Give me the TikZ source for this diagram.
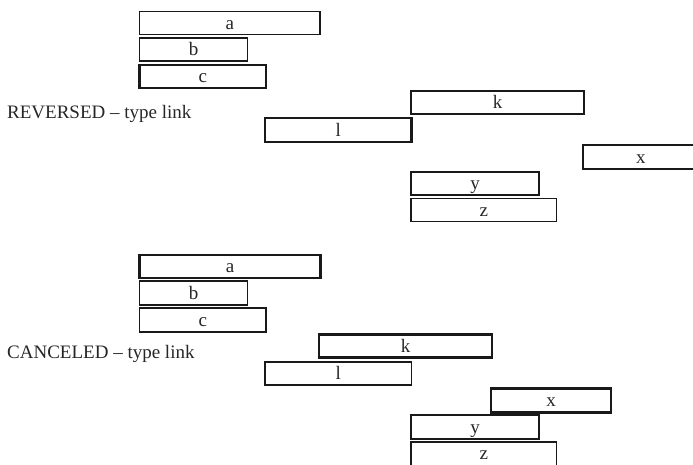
\documentclass[tikz,border=0pt]{standalone}
\usepackage{fontspec}
\setmainfont{Liberation Serif}
\usetikzlibrary{calc}
\begin{document}
\begin{tikzpicture}[x=1pt,y=-1pt,
  bar/.style={draw=black!90,line width=1.1pt,anchor=north west,inner sep=0pt,outer sep=0pt,
    minimum height=23pt,text height=14pt,text depth=2pt,font=\fontsize{19}{22}\selectfont,text=black!85},
  thickbar/.style={bar,line width=2.6pt},
  lab/.style={anchor=base west,inner sep=0pt,font=\fontsize{19}{22}\selectfont,text=black!85}]
\useasboundingbox (0,0) rectangle (693,464);
\clip (0,0) rectangle (693,464);
% top section
\node[bar,minimum width=180.5pt] (a1) at (139.5,11.5) {a};
\node[bar,minimum width=108pt] (b1) at (139.5,38) {b};
\node[thickbar,minimum width=126.5pt] (c1) at (139.5,65) {c};
\node[lab] (r1) at (7,118.3) {REVERSED – type link};
\node[thickbar,minimum width=173pt] (k1) at (411,91) {k};
\node[thickbar,minimum width=146.5pt,minimum height=24pt] (l1) at (265,118) {l};
\node[thickbar,minimum width=217pt,minimum height=24pt,text width=217pt,align=left] (x1) at (583,145) {\hspace*{53pt}x};
\node[bar,minimum width=128pt] (y1) at (411,172) {y};
\node[bar,minimum width=145.5pt] (z1) at (411,198.5) {z};
% bottom section
\node[thickbar,minimum width=181pt] (a2) at (139.5,255) {a};
\node[bar,minimum width=108pt,minimum height=24pt] (b2) at (139.5,281) {b};
\node[bar,minimum width=126.5pt,minimum height=24pt] (c2) at (139.5,308) {c};
\node[lab] (r2) at (7,358.3) {CANCELED – type link};
\node[thickbar,minimum width=173pt] (k2) at (319,334.5) {k};
\node[bar,minimum width=146.5pt] (l2) at (265,362) {l};
\node[thickbar,minimum width=120pt,minimum height=24pt] (x2) at (491,388.5) {x};
\node[bar,minimum width=128pt,minimum height=24pt] (y2) at (411,415) {y};
\node[bar,minimum width=145.5pt,minimum height=40pt] (z2) at (411,442) {};
\node[font=\fontsize{19}{22}\selectfont,text=black!85,anchor=base,inner sep=0pt] (zt2) at ($(z2.north)+(0,17.5)$) {z};
\end{tikzpicture}
\end{document}
